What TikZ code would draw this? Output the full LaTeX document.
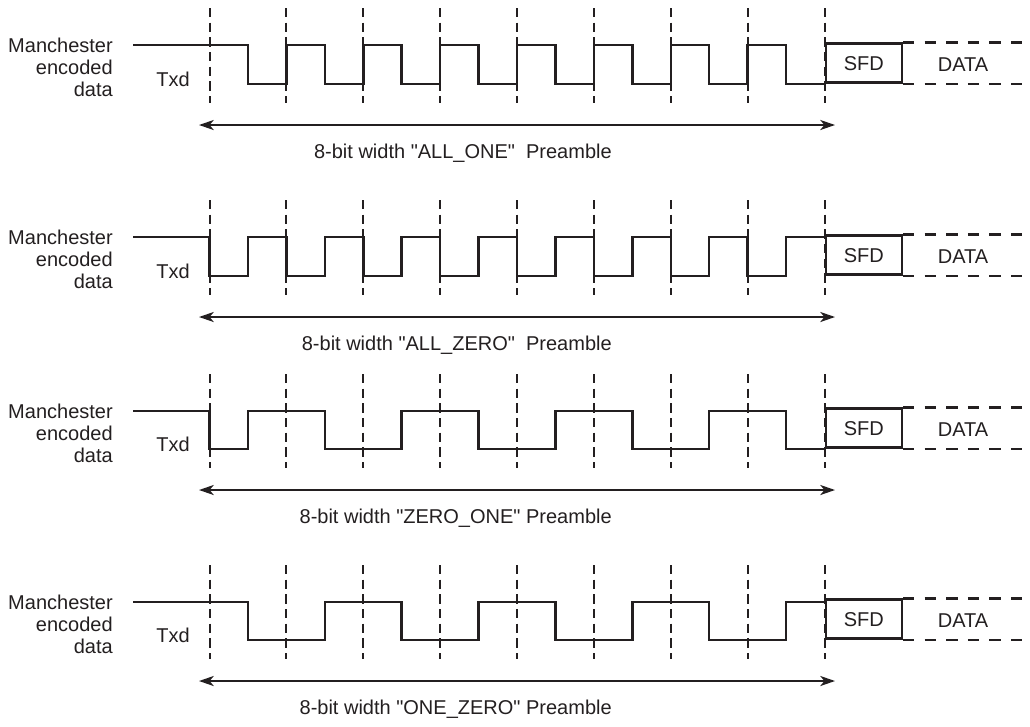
\documentclass[tikz,border=0pt]{standalone}
\usepackage{fontspec}
\setmainfont{Liberation Sans}
\usepackage{xcolor}
\definecolor{ink}        {HTML}{231F20}
\usetikzlibrary{arrows.meta, positioning, calc}
\tikzset{
    sig/.style={line width=1.9pt, ink, line join=miter},
    grid/.style={line width=1.5pt, ink, dash pattern=on 7pt off 4pt},
    dataline/.style={line width=1.9pt, ink, dash pattern=on 8.5pt off 7.7pt},
    span/.style={{Stealth[length=11pt, width=7.5pt, inset=3pt]}-{Stealth[length=11pt, width=7.5pt, inset=3pt]},
                 line width=1.6pt, ink},
    lbl/.style={font=\fontsize{15}{16.5}\selectfont, text=ink, inner sep=0pt},
    sidelbl/.style={lbl, align=right, anchor=east},
    sfdbox/.style={lbl, draw=ink, line width=1.9pt, minimum width=57pt,
                   minimum height=29.25pt},
}
\newcommand{\qt}{\textquotedbl}

\begin{document}
\begin{tikzpicture}[x=0.75pt, y=-0.75pt]
    \useasboundingbox (0,0) rectangle (1030,726);
    \def\xo{209.5}
    \def\hw{38.44}
    \foreach \r/\hi/\lo/\kind/\tr in {
        1/45/84/{\qt ALL\_ONE\qt\ \ Preamble}/{1/0,2/1,3/0,4/1,5/0,6/1,7/0,8/1,9/0,10/1,11/0,12/1,13/0,14/1,15/0,16/0},
        2/237/276/{\qt ALL\_ZERO\qt\ \ Preamble}/{0/0,1/1,2/0,3/1,4/0,5/1,6/0,7/1,8/0,9/1,10/0,11/1,12/0,13/1,14/0,15/1,16/1},
        3/411/449/{\qt ZERO\_ONE\qt\ Preamble}/{0/0,1/1,3/0,5/1,7/0,9/1,11/0,13/1,15/0,16/0},
        4/602/640/{\qt ONE\_ZERO\qt\ Preamble}/{1/0,3/1,5/0,7/1,9/0,11/1,13/0,15/1,16/1}}{
        \node[sidelbl] (side\r) at (113,{\hi+22}) {Manchester\\encoded\\data};
        \node[lbl] (txd\r) at (173,{\lo-5}) {Txd};
        % bit cell boundaries
        \foreach \j in {0,...,8}
            \draw[grid] ({\xo+2*\hw*\j},{\hi-37}) -- ({\xo+2*\hw*\j},{\lo+19});
        % preamble waveform
        \coordinate (start\r) at (133,\hi);
        \draw[sig] (start\r) \foreach \k/\v in \tr {-| ({\xo+\hw*\k},{\v*\hi+(1-\v)*\lo})};
        \node[sfdbox, anchor=south west] (sfd\r) at ({\xo+16*\hw},\lo) {SFD};
        \draw[dataline] (sfd\r.north east) -- ++(130,0);
        \draw[dataline] (sfd\r.south east) -- ++(130,0);
        \node[lbl] (data\r) at (963,{(\hi+\lo)/2}) {DATA};
        % preamble span
        \coordinate (al\r) at (199,{\lo+41});
        \coordinate (ar\r) at (835,{\lo+41});
        \draw[span] (al\r) -- (ar\r);
        \node[lbl, anchor=east] (pre\r) at (612,{\lo+69}) {8-bit width \kind};
    }
\end{tikzpicture}
\end{document}
